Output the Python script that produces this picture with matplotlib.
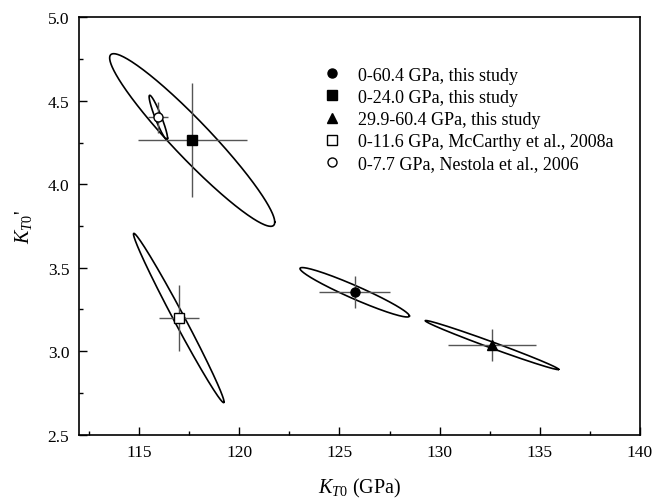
import numpy as np
import matplotlib
matplotlib.use("Agg")
import matplotlib.pyplot as plt
from matplotlib.ticker import MultipleLocator

# ---- data ----
labels = ["0-60.4 GPa, this study",
          "0-24.0 GPa, this study",
          "29.9-60.4 GPa, this study",
          "0-11.6 GPa, McCarthy et al., 2008a",
          "0-7.7 GPa, Nestola et al., 2006"]
K0 = [125.76, 117.65, 132.61, 116.98, 115.96]
Kp = [3.353, 4.265, 3.037, 3.199, 4.40]
K0_err = [1.78, 2.72, 2.20, 1.01, 0.50]
Kp_err = [0.095, 0.34, 0.098, 0.20, 0.092]
# confidence ellipse half-extents and correlation
ell_sx = [2.73, 4.12, 3.33, 2.26, 0.46]
ell_sy = [0.148, 0.517, 0.147, 0.507, 0.133]
ell_rho = [-0.958, -0.951, -0.991, -0.991, -0.93]
markers = ["o", "s", "^", "s", "o"]
faces = ["black", "black", "black", "white", "white"]

plt.rcParams["font.family"] = ["Liberation Serif", "DejaVu Serif"]
plt.rcParams["mathtext.fontset"] = "custom"
plt.rcParams["mathtext.rm"] = "Liberation Serif"
plt.rcParams["mathtext.it"] = "Liberation Serif:italic"

fig = plt.figure(figsize=(6.52, 5.02), dpi=100)
ax = fig.add_axes([79/652, 1-435.7/502, (640-79)/652, (435.7-18.3)/502])

t = np.linspace(0, 2*np.pi, 400)
for cx, cy, sx, sy, r in zip(K0, Kp, ell_sx, ell_sy, ell_rho):
    ex = cx + sx*np.cos(t)
    ey = cy + sy*(r*np.cos(t) + np.sqrt(1-r*r)*np.sin(t))
    ax.plot(ex, ey, color="black", lw=1.2, zorder=2)

for i in range(len(K0)):
    ax.errorbar(K0[i], Kp[i], xerr=K0_err[i], yerr=Kp_err[i], fmt="none",
                ecolor="#555555", elinewidth=1.0, capsize=0, zorder=3)

handles = []
for i in range(len(K0)):
    ms = 6.5 if markers[i] != "^" else 7
    h, = ax.plot(K0[i], Kp[i], linestyle="none", marker=markers[i], ms=ms,
                 mfc=faces[i], mec="black", mew=1.0, zorder=4, label=labels[i])
    handles.append(h)

ax.set_xlim(112, 140)
ax.set_ylim(2.5, 5.0)
ax.xaxis.set_major_locator(MultipleLocator(5))
ax.xaxis.set_minor_locator(MultipleLocator(2.5))
ax.yaxis.set_major_locator(MultipleLocator(0.5))
ax.yaxis.set_minor_locator(MultipleLocator(0.25))
ax.yaxis.set_major_formatter(matplotlib.ticker.FormatStrFormatter("%.1f"))
ax.tick_params(which="both", direction="in", top=False, right=False,
               labelsize=12.5, width=1.0)
ax.tick_params(which="major", length=5.5, pad=7)
ax.tick_params(which="minor", length=3)
for s in ax.spines.values():
    s.set_linewidth(1.2)

ax.set_xlabel(r"$K_{\mathit{T0}}$ (GPa)", fontsize=14.5, labelpad=11)
ax.set_ylabel(r"$K_{\mathit{T0}}$'", fontsize=14.5, labelpad=10)

leg = ax.legend(handles=handles, loc="upper left", bbox_to_anchor=(0.4344, 0.882),
                frameon=False, fontsize=13, numpoints=1, handlelength=1.0,
                handletextpad=0.96, labelspacing=0.29, borderpad=0, borderaxespad=0)

fig.savefig("out.png", dpi=100)
